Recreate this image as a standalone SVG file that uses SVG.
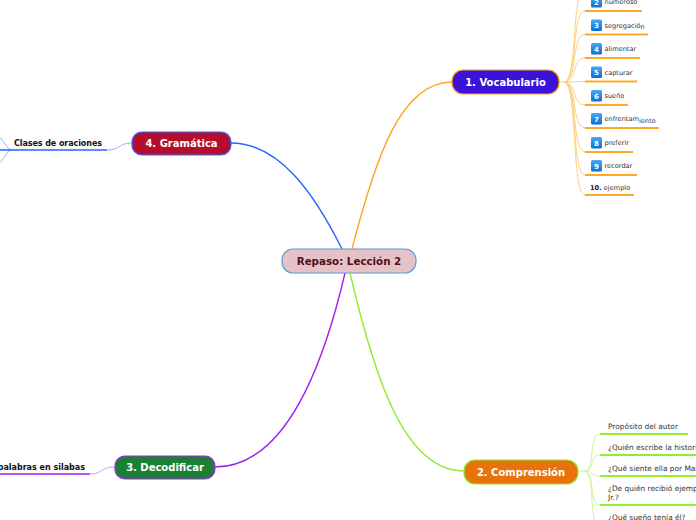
<svg xmlns="http://www.w3.org/2000/svg" width="696" height="520" viewBox="0 0 696 520">
<defs>
<linearGradient id="nb" x1="0" y1="0" x2="0" y2="1">
<stop offset="0" stop-color="#45aaf5"/>
<stop offset="1" stop-color="#0b6fd3"/>
</linearGradient>
<style>
.main{font-family:"DejaVu Sans",Verdana,sans-serif;font-weight:bold;font-size:10px;fill:#fff;text-anchor:middle}
.it{font-family:"DejaVu Sans",Verdana,sans-serif;font-size:6.6px;fill:#333}
.q{font-family:"DejaVu Sans",Verdana,sans-serif;font-size:7.4px;fill:#333}
.bl{font-family:"DejaVu Sans",Verdana,sans-serif;font-weight:bold;font-size:8px;fill:#111}
.num{font-family:"DejaVu Sans",sans-serif;font-weight:bold;font-size:7px;fill:#fff;text-anchor:middle}
.nbox{fill:url(#nb)}
.c{fill:none}
.or{stroke:#ffa51f;stroke-width:1.4}
.orl{stroke:#ffcf80;stroke-width:1}
.oru{stroke:#ffa726;stroke-width:2}
.gr{stroke:#90ee30;stroke-width:1.4}
.grl{stroke:#c8f7a0;stroke-width:1}
.gru{stroke:#90ee30;stroke-width:2}
.bu{stroke:#2962ff;stroke-width:1.4}
.bul{stroke:#8fb0ff;stroke-width:1}
.pu{stroke:#a020f0;stroke-width:1.4}
.pul{stroke:#d49af7;stroke-width:1}
</style>
</defs>
<g id="connectors">
<path class="c or" d="M352,249 C375,160 400,82 452,82"/>
<path class="c bu" d="M342,249 C315,195 280,143 231,143"/>
<path class="c pu" d="M345,273 C320,380 280,467 215,467"/>
<path class="c gr" d="M350,273 C375,380 405,471 464,471"/>
<g class="c orl">
<path d="M559,82 H564"/>
<path d="M564,82 C578,82 571,-12 585,-12"/>
<path d="M564,82 C578,82 571,11 585,11"/>
<path d="M564,82 C578,82 571,34.5 585,34.5"/>
<path d="M564,82 C578,82 571,58 585,58"/>
<path d="M564,82 C578,82 571,81.5 585,81.5"/>
<path d="M564,82 C578,82 571,105 585,105"/>
<path d="M564,82 C578,82 571,128 585,128"/>
<path d="M564,82 C578,82 571,152 585,152"/>
<path d="M564,82 C578,82 571,175 585,175"/>
<path d="M564,82 C578,82 571,195 585,195"/>
</g>
<g class="c grl">
<path d="M578,471 H584"/>
<path d="M584,471 C596,471 588,434 600,434"/>
<path d="M584,471 C596,471 588,455 600,455"/>
<path d="M584,471 C596,471 588,476 600,476"/>
<path d="M584,471 C596,471 588,505 600,505"/>
<path d="M584,471 C596,471 588,528 600,528"/>
</g>
<path class="c bul" d="M132,143 C118,143 121,150 107,150"/>
<path class="c bul" d="M12,150 C6,150 4,138 -2,137"/>
<path class="c bul" d="M12,150 C6,150 4,162 -2,163"/>
<path class="c pul" d="M115,467 C100,467 103,474 90,474"/>
</g>
<g id="center">
<rect x="282" y="249" width="134" height="24" rx="11" fill="#e5c2c7" stroke="#5b9bd5" stroke-width="1.2"/>
<text x="349" y="264.5" text-anchor="middle" font-family="DejaVu Sans,Verdana,sans-serif" font-weight="bold" font-size="10.3" fill="#540d20">Repaso: Lección 2</text>
</g>
<g id="vocabulario">
<rect x="452" y="70" width="107" height="24" rx="11" fill="#3b12d9" stroke="#f7a21b" stroke-width="1.2"/>
<text class="main" x="505.5" y="85.5">1. Vocabulario</text>
</g>
<g id="gramatica">
<rect x="132" y="132" width="99" height="23" rx="10" fill="#b30e2c" stroke="#3a66ff" stroke-width="1.2"/>
<text class="main" x="181.5" y="147">4. Gramática</text>
</g>
<g id="decodificar">
<rect x="115" y="456" width="100" height="23" rx="10" fill="#1b7f34" stroke="#a626f0" stroke-width="1.2"/>
<text class="main" x="165" y="471">3. Decodificar</text>
</g>
<g id="comprension">
<rect x="464" y="460" width="114" height="24" rx="11" fill="#e8720c" stroke="#8fe836" stroke-width="1.2"/>
<text class="main" x="521" y="475.5">2. Comprensión</text>
</g>
<g id="clases">
<path class="c bu" d="M0,150 H107" stroke-width="2"/>
<text class="bl" x="14" y="146" textLength="88">Clases de oraciones</text>
</g>
<g id="palabras">
<path class="c pu" d="M0,474 H90" stroke-width="2"/>
<text class="bl" x="85" y="470" text-anchor="end">palabras en silabas</text>
</g>
<g id="v2"><path class="c oru" d="M585,11 H642"/><rect class="nbox" x="591" y="-4" width="11" height="11.5" rx="1.5"/><text class="num" x="596.5" y="4.5">2</text><text class="it" x="604.5" y="4">numeroso</text></g>
<g id="v3"><path class="c oru" d="M585,34.5 H648"/><rect class="nbox" x="591" y="19.5" width="11" height="11.5" rx="1.5"/><text class="num" x="596.5" y="28">3</text><text class="it" x="604.5" y="27.5">segregació<tspan dy="1.5">n</tspan></text></g>
<g id="v4"><path class="c oru" d="M585,58 H640"/><rect class="nbox" x="591" y="43" width="11" height="11.5" rx="1.5"/><text class="num" x="596.5" y="51.5">4</text><text class="it" x="604.5" y="51">alimentar</text></g>
<g id="v5"><path class="c oru" d="M585,81.5 H637"/><rect class="nbox" x="591" y="66.5" width="11" height="11.5" rx="1.5"/><text class="num" x="596.5" y="75">5</text><text class="it" x="604.5" y="74.5">capturar</text></g>
<g id="v6"><path class="c oru" d="M585,105 H628"/><rect class="nbox" x="591" y="90" width="11" height="11.5" rx="1.5"/><text class="num" x="596.5" y="98.5">6</text><text class="it" x="604.5" y="98">sueño</text></g>
<g id="v7"><path class="c oru" d="M585,128 H659"/><rect class="nbox" x="591" y="113" width="11" height="11.5" rx="1.5"/><text class="num" x="596.5" y="121.5">7</text><text class="it" x="604.5" y="121">enfrentam<tspan dy="1.5" fill="#333">iento</tspan></text></g>
<g id="v8"><path class="c oru" d="M585,152 H633"/><rect class="nbox" x="591" y="137" width="11" height="11.5" rx="1.5"/><text class="num" x="596.5" y="145.5">8</text><text class="it" x="604.5" y="145">preferir</text></g>
<g id="v9"><path class="c oru" d="M585,175 H637"/><rect class="nbox" x="591" y="160" width="11" height="11.5" rx="1.5"/><text class="num" x="596.5" y="168.5">9</text><text class="it" x="604.5" y="168">recordar</text></g>
<g id="v10"><path class="c oru" d="M585,195 H634"/><text class="it" x="590" y="189.5"><tspan font-weight="bold" fill="#111">10.</tspan> ejemplo</text></g>
<g id="c1"><path class="c gru" d="M600,434 H688"/><text class="q" x="608" y="429" font-size="8.8">Propósito del autor</text></g>
<g id="c2"><path class="c gru" d="M600,455 H700"/><text class="q" x="608" y="450">¿Quién escribe la historia?</text></g>
<g id="c3"><path class="c gru" d="M600,476 H700"/><text class="q" x="608" y="470.5">¿Qué siente ella por Martin?</text></g>
<g id="c4"><path class="c gru" d="M600,505 H700"/><text class="q" x="608" y="491">¿De quién recibió ejemplo Martin</text><text class="q" x="608" y="500">Jr.?</text></g>
<g id="c5"><text class="q" x="608" y="519.5">¿Qué sueño tenía él?</text></g>
</svg>
